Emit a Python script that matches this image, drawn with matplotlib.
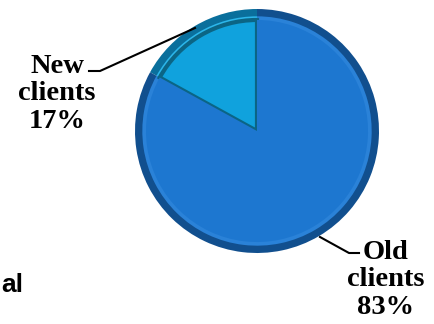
import matplotlib.pyplot as plt

# data
categories = ["New\nclients", "Old\nclients"]
shares = [17, 83]

W, H = 434, 324
fig = plt.figure(figsize=(W / 100, H / 100), dpi=100)
ax = fig.add_axes([0, 0, 1, 1])

cx, cy, r = 257, H - 131, 122

# darker rim, a light ring and the face on top to fake the bevel
rim = ["#0a6f9c", "#114f8e"]
ring = ["#2cb6ea", "#2a82d8"]
face = ["#10a2dd", "#1d77d0"]
ax.pie(shares, colors=rim, startangle=90, counterclock=True,
       center=(cx, cy), radius=r, frame=True,
       wedgeprops=dict(linewidth=0))
ax.pie(shares, colors=ring, startangle=90, counterclock=True,
       center=(cx, cy), radius=r * 0.94, frame=True,
       wedgeprops=dict(linewidth=0))
inner, _ = ax.pie(shares, colors=face, startangle=90, counterclock=True,
                  center=(cx, cy), radius=r * 0.91, frame=True,
                  wedgeprops=dict(linewidth=0))
inner[0].set_edgecolor("#0b6585")
inner[0].set_linewidth(3)
ax.set_xlim(0, W)
ax.set_ylim(0, H)
ax.set_aspect("equal")
ax.axis("off")

font = dict(family="Liberation Serif", weight="bold", size=20.5, color="black")

# New clients label + leader
ax.text(57, H - 94, f"{categories[0]}\n{shares[0]}%", ha="center", va="center",
        linespacing=1.12, **font)
ax.plot([89, 100, 195], [H - 71, H - 71, H - 28], color="black", lw=1.5)

# Old clients label + leader
ax.text(386, H - 280, f"{categories[1]}\n{shares[1]}%", ha="center", va="center",
        linespacing=1.12, **font)
ax.plot([320, 349, 359], [H - 237, H - 253, H - 253], color="black", lw=1.5)

# leftover text at the lower left
ax.text(1, H - 292, "al", ha="left", va="baseline", family="Liberation Sans",
        weight="bold", size=19, color="black")

fig.savefig("out.png", dpi=100)
